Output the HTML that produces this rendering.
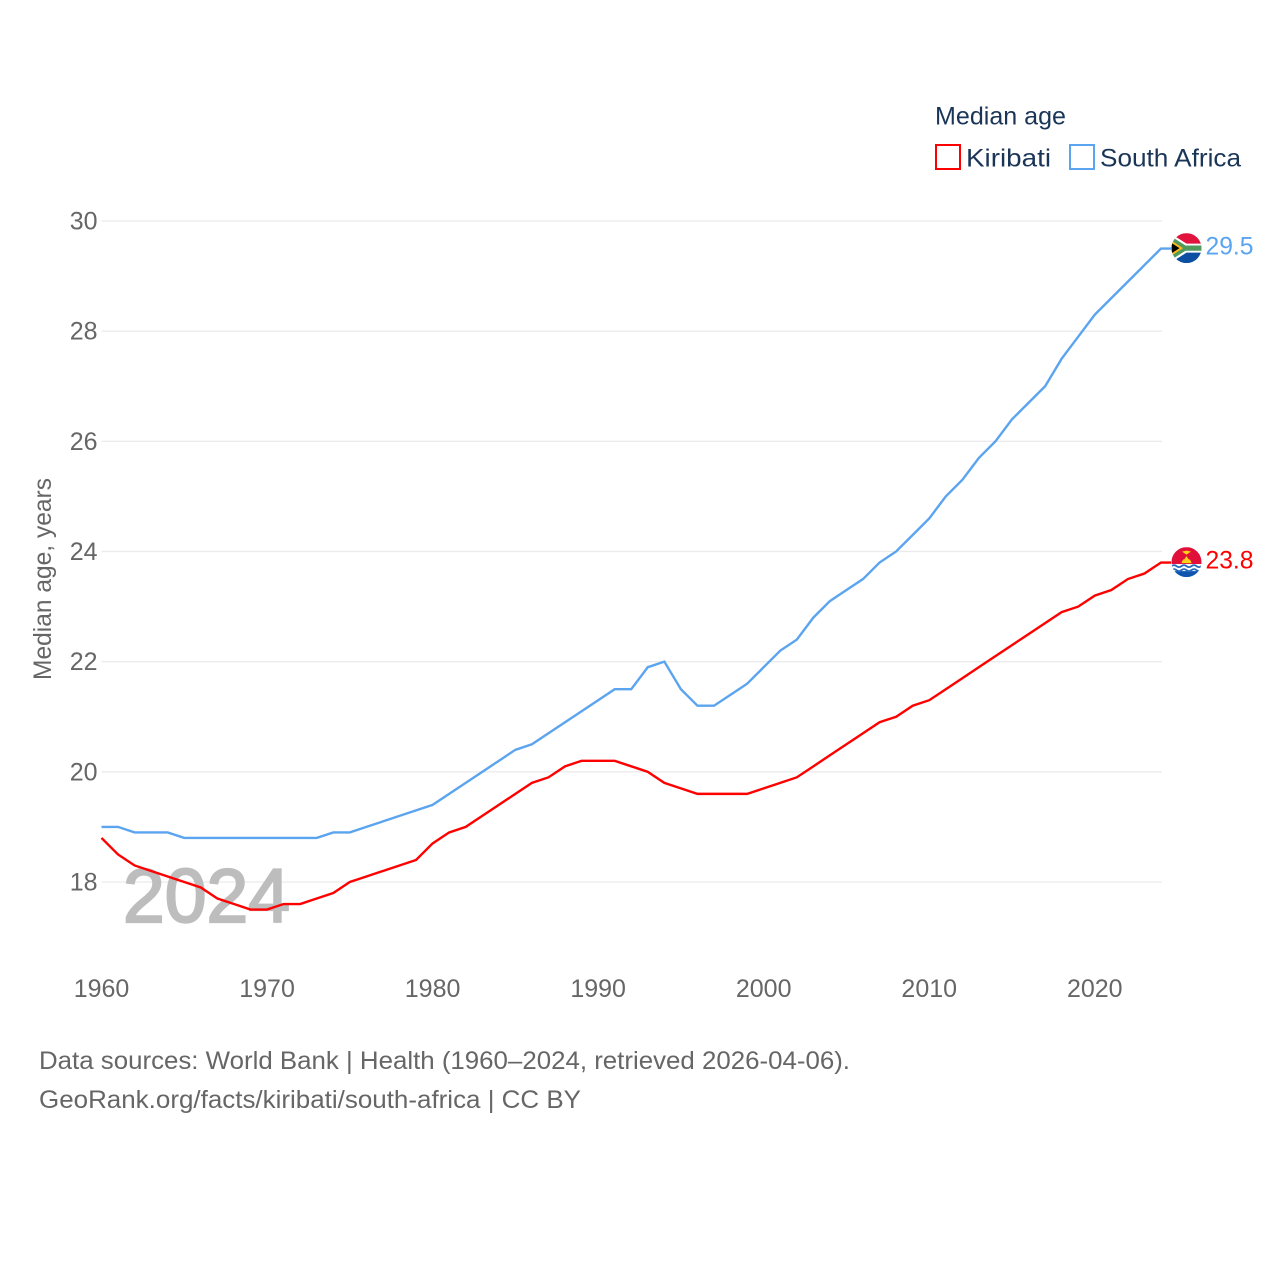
<!DOCTYPE html>
<html lang="en">
<head>
<meta charset="utf-8">
<title>Median age: Kiribati and South Africa</title>
<style>
html,body{margin:0;padding:0;background:#fff;width:1280px;height:1280px;overflow:hidden}
svg{display:block}
text{font-family:"Liberation Sans",sans-serif}
</style>
</head>
<body>
<svg id="chart" xmlns="http://www.w3.org/2000/svg" width="1280" height="1280" viewBox="0 0 1280 1280">
  <defs>
    <clipPath id="flag-clip"><circle cx="0" cy="0" r="15"/></clipPath>
  </defs>
  <g id="grid"></g>
  <g id="yticks"></g>
  <g id="xticks"></g>
  <text transform="translate(51,680) rotate(-90)" font-size="25" fill="#666" textLength="202" lengthAdjust="spacingAndGlyphs">Median age, years</text>
  <text x="123" y="922" font-size="76" fill="#bdbdbd" stroke="#bdbdbd" stroke-width="2.2" textLength="167" lengthAdjust="spacingAndGlyphs">2024</text>
  <g id="series"></g>

  <g id="flag-sa">
    <g clip-path="url(#flag-clip)">
      <rect x="-15" y="-15" width="30" height="15" fill="#e0143c"/>
      <rect x="-15" y="0" width="30" height="15" fill="#0b4ea2"/>
      <path d="M-15 -14 L0 -4.5 H15 V4.5 H0 L-15 14 Z" fill="#fff"/>
      <path d="M-15 -11.5 L-1 -2.6 H15 V2.6 H-1 L-15 11.5 Z" fill="#4f9a5c"/>
      <path d="M-15 -7.5 L-3.5 0 L-15 7.5 Z" fill="#ffb81c"/>
      <path d="M-15 -5.2 L-7 0 L-15 5.2 Z" fill="#000"/>
    </g>
  </g>
  <g id="flag-ki">
    <g clip-path="url(#flag-clip)">
      <rect x="-15" y="-15" width="30" height="17" fill="#e0103a"/>
      <rect x="-15" y="2" width="30" height="13" fill="#fff"/>
      <path d="M-5 1 Q-4 -3 -2 -3 L0 -6 L2 -3 Q4 -3 5 1 Z" fill="#fcd116"/>
      <path d="M-4.5 -10.5 L0 -11.5 L4.5 -10.5 L1.5 -8.5 L0 -7.5 L-1.5 -8.5 Z" fill="#fcd116"/>
      <rect x="-15" y="9" width="30" height="6" fill="#0f55b0"/>
      <path d="M-15 4 q2.5 -2 5 0 t5 0 t5 0 t5 0 t5 0 t5 0" fill="none" stroke="#2a6cbc" stroke-width="1.8"/>
      <path d="M-15 8 q2.5 -2 5 0 t5 0 t5 0 t5 0 t5 0 t5 0" fill="none" stroke="#2a6cbc" stroke-width="1.8"/>
    </g>
  </g>
  <g id="endlabels"></g>

  <g>
    <text x="935" y="124.5" font-size="25" fill="#1b3557" textLength="131" lengthAdjust="spacingAndGlyphs">Median age</text>
    <rect x="936" y="145" width="24" height="24" fill="#fff" stroke="#ff0000" stroke-width="2"/>
    <text x="966" y="166.5" font-size="25" fill="#1b3557" textLength="85" lengthAdjust="spacingAndGlyphs">Kiribati</text>
    <rect x="1070" y="145" width="24" height="24" fill="#fff" stroke="#5ba4ef" stroke-width="2"/>
    <text x="1100" y="166.5" font-size="25" fill="#1b3557" textLength="141" lengthAdjust="spacingAndGlyphs">South Africa</text>
  </g>

  <g>
    <text x="39" y="1069" font-size="25" fill="#666" textLength="811" lengthAdjust="spacingAndGlyphs">Data sources: World Bank | Health (1960–2024, retrieved 2026-04-06).</text>
    <text x="39" y="1108" font-size="25" fill="#666" textLength="542" lengthAdjust="spacingAndGlyphs">GeoRank.org/facts/kiribati/south-africa | CC BY</text>
  </g>
</svg>
<script>
const firstYear = 1960;
const lastYear = 2024;
const yTickValues = [18, 20, 22, 24, 26, 28, 30];
const xTickValues = [1960, 1970, 1980, 1990, 2000, 2010, 2020];
const kiribatiValues = [18.8,18.5,18.3,18.2,18.1,18.0,17.9,17.7,17.6,17.5,17.5,17.6,17.6,17.7,17.8,18.0,18.1,18.2,18.3,18.4,18.7,18.9,19.0,19.2,19.4,19.6,19.8,19.9,20.1,20.2,20.2,20.2,20.1,20.0,19.8,19.7,19.6,19.6,19.6,19.6,19.7,19.8,19.9,20.1,20.3,20.5,20.7,20.9,21.0,21.2,21.3,21.5,21.7,21.9,22.1,22.3,22.5,22.7,22.9,23.0,23.2,23.3,23.5,23.6,23.8];
const southAfricaValues = [19.0,19.0,18.9,18.9,18.9,18.8,18.8,18.8,18.8,18.8,18.8,18.8,18.8,18.8,18.9,18.9,19.0,19.1,19.2,19.3,19.4,19.6,19.8,20.0,20.2,20.4,20.5,20.7,20.9,21.1,21.3,21.5,21.5,21.9,22.0,21.5,21.2,21.2,21.4,21.6,21.9,22.2,22.4,22.8,23.1,23.3,23.5,23.8,24.0,24.3,24.6,25.0,25.3,25.7,26.0,26.4,26.7,27.0,27.5,27.9,28.3,28.6,28.9,29.2,29.5];

const NS = 'http://www.w3.org/2000/svg';
const plotLeft = 101.5, plotRight = 1161, y18 = 882, y30 = 221;
function xScale(year) {
  return plotLeft + (year - firstYear) * (plotRight - plotLeft) / (lastYear - firstYear);
}
function yScale(v) {
  return y18 + (v - 18) * (y30 - y18) / 12;
}
function make(tag, attrs, parent, txt) {
  const el = document.createElementNS(NS, tag);
  for (const k in attrs) el.setAttribute(k, attrs[k]);
  if (txt !== undefined) el.textContent = txt;
  parent.appendChild(el);
  return el;
}
const grid = document.getElementById('grid');
const yticks = document.getElementById('yticks');
const xticks = document.getElementById('xticks');
const series = document.getElementById('series');
const endlabels = document.getElementById('endlabels');

yTickValues.forEach(function (v) {
  const line = make('line', {x1: plotLeft, x2: plotRight + 1, y1: yScale(v), y2: yScale(v), stroke: '#ebebeb', 'stroke-width': 1.3}, grid);
  
  
  const label = make('text', {x: 97.5, y: yScale(v) + 8.5, 'text-anchor': 'end', 'font-size': 25, fill: '#666'}, yticks, String(v));
  
  
});
xTickValues.forEach(function (yr) {
  const label = make('text', {x: xScale(yr), y: 997, 'text-anchor': 'middle', 'font-size': 25, fill: '#666'}, xticks, String(yr));
  
  
});
function drawSeries(values, color, name, flagId) {
  const pts = values.map(function (v, i) {
    return xScale(firstYear + i).toFixed(2) + ',' + yScale(v).toFixed(2);
  });
  const lastV = values[values.length - 1];
  const yEnd = yScale(lastV);
  pts.push((plotRight + 10) + ',' + yEnd.toFixed(2));
  const path = make('polyline', {points: pts.join(' '), fill: 'none', stroke: color, 'stroke-width': 2.4, 'stroke-linejoin': 'miter'}, series);
  
  
  document.getElementById(flagId).setAttribute('transform', 'translate(1186.5,' + (yEnd - 0.4).toFixed(2) + ')');
  const label = make('text', {x: 1205.5, y: yEnd + 5.8, 'font-size': 25, fill: color, textLength: 48, lengthAdjust: 'spacingAndGlyphs'}, endlabels, lastV.toFixed(1));
  
  
}
drawSeries(southAfricaValues, '#5ba4ef', 'south-africa', 'flag-sa');
drawSeries(kiribatiValues, '#ff0000', 'kiribati', 'flag-ki');
</script>
</body>
</html>
